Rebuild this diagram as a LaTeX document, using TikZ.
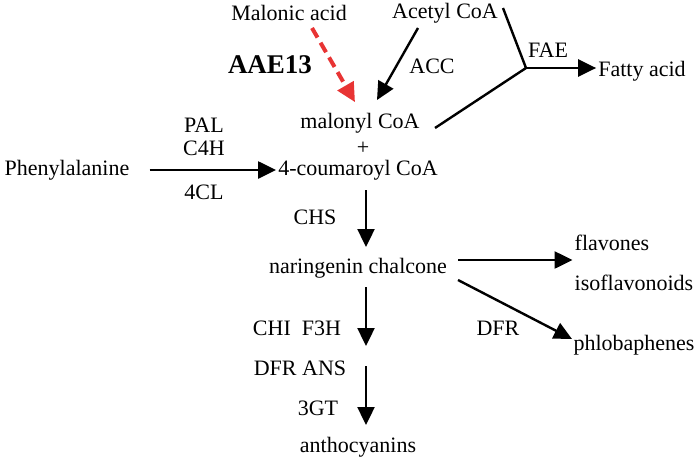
\documentclass[tikz,border=0pt]{standalone}
\usepackage{fontspec}
\setmainfont{Liberation Serif}
\usetikzlibrary{arrows.meta}

\begin{document}
\begin{tikzpicture}[x=1pt,y=-1pt,
    every node/.style={font=\fontsize{22}{26}\selectfont,inner sep=2pt},
    arr/.style={line width=2.4pt,-{Triangle[length=18pt,width=17pt]}},
    redarr/.style={line width=4pt,color=aaered,dash pattern=on 11pt off 6pt,-{Triangle[length=19pt,width=18pt]}}]
  \definecolor{aaered}{RGB}{232,52,52}
  \useasboundingbox (0,0) rectangle (700,461);
  % compounds
  \node (malonic) at (289,13) {Malonic acid};
  \node (acetyl) at (445,13) {Acetyl CoA};
  \node (fatty) at (642,71) {Fatty acid};
  \node (malonyl) at (360,123) {malonyl CoA};
  \node (plus) at (363,148) {+};
  \node (coum) at (358,170) {4-coumaroyl CoA};
  \node (phe) at (67,170) {Phenylalanine};
  \node (nar) at (358,268) {naringenin chalcone};
  \node (flav) at (612,243) {flavones};
  \node (iso) at (634,283) {isoflavonoids};
  \node (phlob) at (634,345) {phlobaphenes};
  \node (antho) at (358,447) {anthocyanins};
  % enzymes
  \node[font=\fontsize{27}{30}\bfseries] (aae) at (270,65) {AAE13};
  \node (acc) at (432,66) {ACC};
  \node (fae) at (548,50) {FAE};
  \node (pal) at (204,125) {PAL};
  \node (c4h) at (204,148) {C4H};
  \node (cl4) at (204,192) {4CL};
  \node (chs) at (315,217) {CHS};
  \node (dfr) at (498,328) {DFR};
  \node (chi) at (297,328) {CHI\ \ F3H};
  \node (ans) at (300,368) {DFR ANS};
  \node (gt) at (318,408) {3GT};
  % free ends
  \coordinate (malstart) at (312,28);
  \coordinate (acstart) at (418,28);
  \coordinate (actip) at (377,100);
  \coordinate (faetop) at (503,8);
  \coordinate (faejoin) at (526,68);
  \coordinate (malend) at (435,128);
  \coordinate (up1) at (366,287);
  \coordinate (tip1) at (366,346);
  \coordinate (up2) at (366,366);
  \coordinate (tip2) at (366,425);
  \coordinate (chsup) at (366,190);
  \coordinate (chstip) at (366,247);
  \coordinate (nar-e1) at (458,260);
  \coordinate (nar-e2) at (458,280);
  % connectors
  \draw[redarr,shorten >=10pt] (malstart) -- (malonyl.north);
  \draw[arr] (acstart) -- (actip);
  \draw[line width=2.4pt] (faetop) -- (faejoin) -- (malend);
  \draw[arr] (faejoin) -- (fatty.west |- faejoin);
  \draw[arr,shorten <=18pt] (phe.east) -- (coum.west);
  \draw[arr] (chsup) -- (chstip);
  \draw[arr] (nar-e1) -- (flav.west |- nar-e1);
  \draw[arr] (nar-e2) -- (572,339);
  \draw[arr] (up1) -- (tip1);
  \draw[arr] (up2) -- (tip2);
\end{tikzpicture}
\end{document}
